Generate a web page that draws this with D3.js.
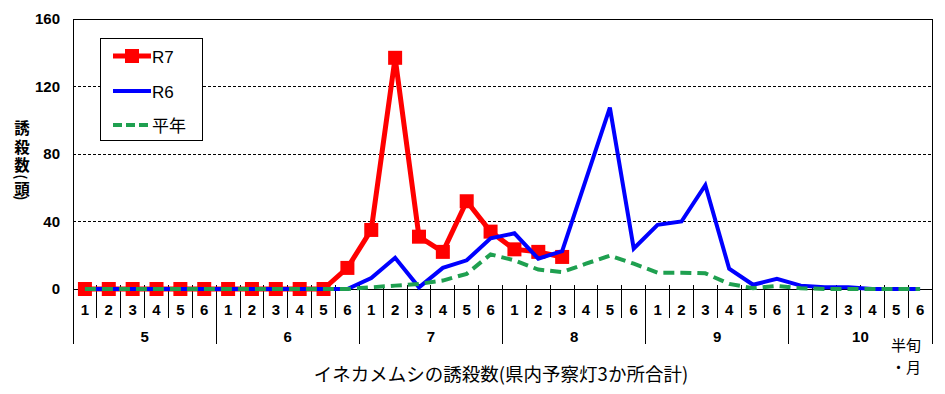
<!DOCTYPE html>
<html>
<head>
<meta charset="utf-8">
<script src="https://cdn.jsdelivr.net/npm/d3@7"></script>
<style>
  body { margin: 0; background: #fff; }
  svg { display: block; }
</style>
</head>
<body>
<div id="chart"></div>
<script>
const months = [5, 6, 7, 8, 9, 10]
const hanjun = [1, 2, 3, 4, 5, 6]
const yTicks = [0, 40, 80, 120, 160]

// 半旬ごとの誘殺数 (5月1半旬〜10月6半旬)
const r7 = [0, 0, 0, 0, 0, 0, 0, 0, 0, 0, 0, 12.5,
  35, 137, 31, 22, 52, 34, 23.5, 22, 19]
const r6 = [0, 0, 0, 0, 0, 0, 0, 0, 0, 0, 0, 0,
  6.5, 18.5, 1, 12.5, 17, 30, 33, 18, 22.5, 65, 107.5, 24,
  38, 40, 61.5, 12, 2.5, 6, 2, 1, 1, 0, 0, 0]
const heinen = [0, 0, 0, 0, 0, 0, 0, 0, 0, 0, 0, 0,
  1, 2, 3, 5, 9, 20.5, 17, 11.5, 10, 15, 19.8, 15,
  9.7, 9.7, 9.3, 3, 0.5, 1.8, 0.5, 0, 0, 0, 0, 0]

const slots = months.flatMap(m => hanjun.map(h => `${m}-${h}`))

const W = 945, H = 394
const plotL = 73, plotR = 932, plotT = 19, plotB = 289

const svg = d3.select('#chart').append('svg')
  .attr('width', W).attr('height', H)

const x = d3.scaleBand().domain(slots).range([plotL, plotR])
const y = d3.scaleLinear().domain([0, 160]).range([plotB, plotT])
const cx = d => x(d) + x.bandwidth() / 2

// grid lines
svg.append('g')
  .selectAll('line')
  .data(yTicks.filter(t => t > 0 && t < 160))
  .enter()
  .append('line')
  .attr('x1', plotL).attr('x2', plotR)
  .attr('y1', d => y(d)).attr('y2', d => y(d))
  .attr('stroke', '#000').attr('stroke-width', 1)
  .attr('stroke-dasharray', '3,2')
  .attr('shape-rendering', 'crispEdges')

// frame
const frame = svg.append('g').attr('stroke', '#000').attr('stroke-width', 1)
  .attr('shape-rendering', 'crispEdges')
frame.append('line').attr('x1', plotL).attr('x2', plotR).attr('y1', y(160)).attr('y2', y(160))
frame.append('line').attr('x1', plotL).attr('x2', plotR).attr('y1', y(0)).attr('y2', y(0))
frame.append('line').attr('x1', plotL).attr('x2', plotL).attr('y1', y(160)).attr('y2', 344)
frame.append('line').attr('x1', plotR).attr('x2', plotR).attr('y1', y(160)).attr('y2', 344)

// half-month separators and month separators
frame.selectAll('.sep')
  .data(slots.slice(1))
  .enter()
  .append('line')
  .attr('x1', d => x(d)).attr('x2', d => x(d))
  .attr('y1', y(0) - 4)
  .attr('y2', (d, i) => ((i + 1) % 6 === 0 ? 344 : 318))

// y tick labels
svg.append('g')
  .selectAll('text')
  .data(yTicks)
  .enter()
  .append('text')
  .attr('x', 60)
  .attr('y', d => y(d) + 5)
  .attr('text-anchor', 'end')
  .attr('font-family', 'Liberation Sans, Arial, sans-serif')
  .attr('font-weight', 'bold')
  .attr('font-size', 15)
  .text(d => d)

// half-month labels
svg.append('g')
  .selectAll('text')
  .data(slots)
  .enter()
  .append('text')
  .attr('x', d => cx(d))
  .attr('y', 315)
  .attr('text-anchor', 'middle')
  .attr('font-family', 'Liberation Sans, Arial, sans-serif')
  .attr('font-weight', 'bold')
  .attr('font-size', 15)
  .text(d => d.split('-')[1])

// month labels
svg.append('g')
  .selectAll('text')
  .data(months)
  .enter()
  .append('text')
  .attr('x', m => (x(`${m}-1`) + x(`${m}-6`) + x.bandwidth()) / 2)
  .attr('y', 342)
  .attr('text-anchor', 'middle')
  .attr('font-family', 'Liberation Sans, Arial, sans-serif')
  .attr('font-weight', 'bold')
  .attr('font-size', 15)
  .text(m => m)

const jp = 'Noto Sans CJK JP, sans-serif'

svg.append('text')
  .attr('x', 906).attr('y', 351)
  .attr('text-anchor', 'middle')
  .attr('font-family', jp).attr('font-size', 15)
  .text('半旬')
svg.append('text')
  .attr('x', 906).attr('y', 373)
  .attr('text-anchor', 'middle')
  .attr('font-family', jp).attr('font-size', 15)
  .text('・月')

svg.append('text')
  .attr('x', 501).attr('y', 381)
  .attr('text-anchor', 'middle')
  .attr('font-family', jp).attr('font-size', 18.5)
  .text('イネカメムシの誘殺数(県内予察灯3か所合計)')

// vertical y title: upright kanji, parentheses turned sideways
const yTitle = [
  { t: '誘', cy: 127, rot: 0 },
  { t: '殺', cy: 146, rot: 0 },
  { t: '数', cy: 164, rot: 0 },
  { t: '(', cy: 177, rot: 90 },
  { t: '頭', cy: 188, rot: 0 },
  { t: ')', cy: 198, rot: 90 }
]
svg.append('g')
  .selectAll('text')
  .data(yTitle)
  .enter()
  .append('text')
  .attr('transform', d => `translate(22,${d.cy}) rotate(${d.rot})`)
  .attr('text-anchor', 'middle')
  .attr('dominant-baseline', 'central')
  .attr('font-family', jp)
  .attr('font-weight', 'bold')
  .attr('font-size', d => (d.rot ? 14 : 15.5))
  .text(d => d.t)

// series
const line = d3.line()
  .x((d, i) => cx(slots[i]))
  .y(d => y(d))

svg.append('path')
  .datum(r7)
  .attr('d', line)
  .attr('fill', 'none')
  .attr('stroke', '#ff0000')
  .attr('stroke-width', 5)
  .attr('stroke-linejoin', 'round')

svg.append('g')
  .selectAll('rect')
  .data(r7)
  .enter()
  .append('rect')
  .attr('x', (d, i) => cx(slots[i]) - 7)
  .attr('y', d => y(d) - 7)
  .attr('width', 14).attr('height', 14)
  .attr('fill', '#ff0000')

svg.append('path')
  .datum(r6)
  .attr('d', line)
  .attr('fill', 'none')
  .attr('stroke', '#0000ff')
  .attr('stroke-width', 4)

svg.append('path')
  .datum(heinen)
  .attr('d', line)
  .attr('fill', 'none')
  .attr('stroke', '#1fa050')
  .attr('stroke-width', 4)
  .attr('stroke-dasharray', '11,6')

// legend
const legend = svg.append('g')
legend.append('rect')
  .attr('x', 100.5).attr('y', 38.5)
  .attr('width', 102).attr('height', 102)
  .attr('fill', '#fff').attr('stroke', '#000')

const legendItems = [
  { name: 'R7', color: '#ff0000', w: 5, dash: null, marker: true, y: 56 },
  { name: 'R6', color: '#0000ff', w: 4, dash: null, marker: false, y: 91 },
  { name: '平年', color: '#1fa050', w: 4, dash: '9,4', marker: false, y: 125 }
]
legendItems.forEach(it => {
  legend.append('line')
    .attr('x1', 113).attr('x2', 151)
    .attr('y1', it.y).attr('y2', it.y)
    .attr('stroke', it.color)
    .attr('stroke-width', it.w)
    .attr('stroke-dasharray', it.dash)
  if (it.marker) {
    legend.append('rect')
      .attr('x', 125).attr('y', it.y - 7)
      .attr('width', 14).attr('height', 14)
      .attr('fill', it.color)
  }
  legend.append('text')
    .attr('x', 152).attr('y', it.y + 7)
    .attr('font-family', it.name === '平年' ? jp : 'Liberation Sans, Arial, sans-serif')
    .attr('font-size', 17)
    .text(it.name)
})
</script>
</body>
</html>
